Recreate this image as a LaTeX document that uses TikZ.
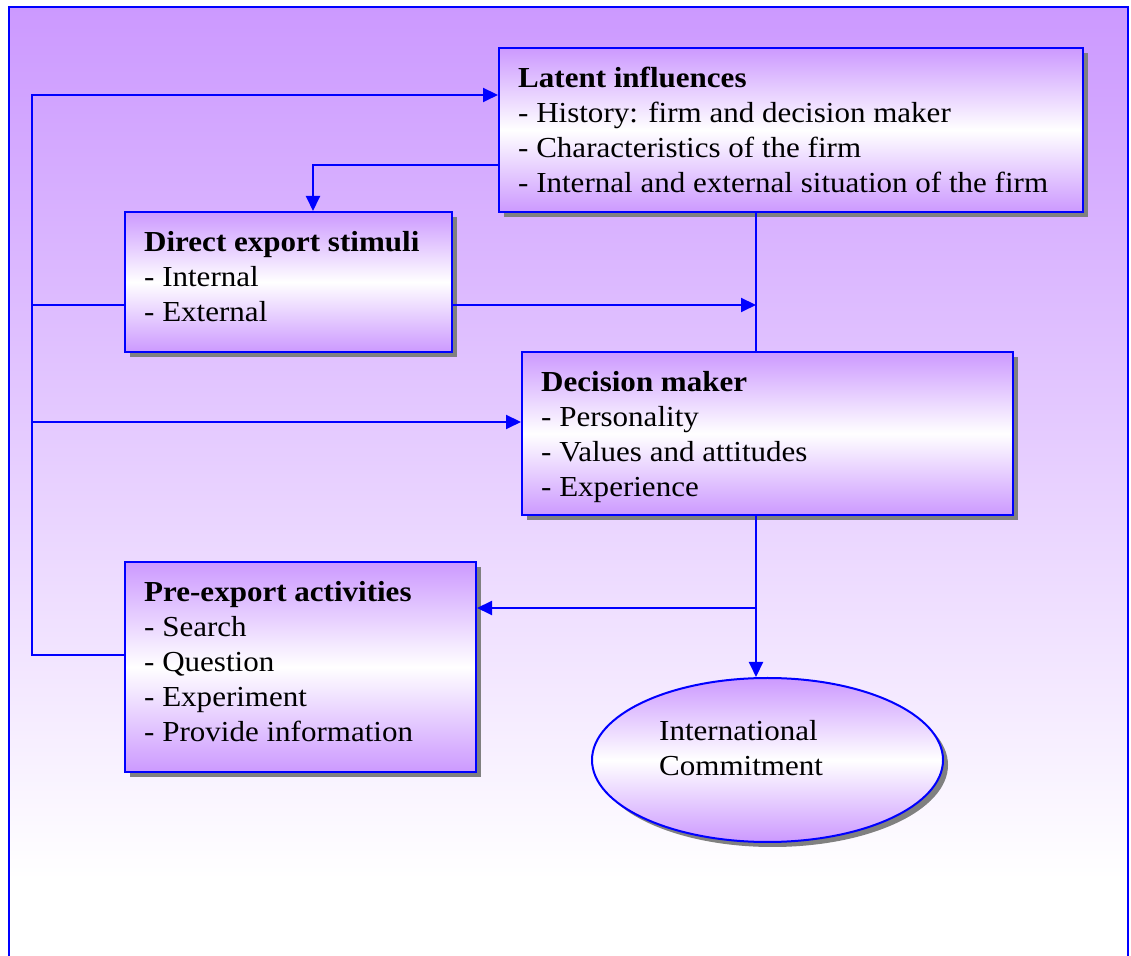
\documentclass[tikz,border=0pt]{standalone}
\usepackage{fontspec}
\setmainfont{Liberation Serif}[FakeStretch=1.07]
\usetikzlibrary{arrows.meta,shapes.geometric,shadows}
\definecolor{lav}{RGB}{204,153,255}
\definecolor{edgeblue}{RGB}{0,0,255}
\definecolor{shadowgray}{RGB}{128,128,128}
\tikzset{
  panel/.style={rectangle, draw=edgeblue, line width=2pt, inner sep=0pt,
    top color=lav, bottom color=lav, middle color=white,
    drop shadow={shadow xshift=5pt, shadow yshift=-5pt, fill=shadowgray, opacity=1}},
  oval/.style={panel, ellipse},
  panel text/.style={anchor=north west, inner sep=0pt, align=left,
    font=\fontsize{29}{35}\selectfont},
  link/.style={draw=edgeblue, line width=2pt},
  feed/.style={link, -{Triangle[length=15pt,width=14pt]}},
}
\begin{document}
\begin{tikzpicture}[x=1pt,y=1pt]
\clip (0,0) rectangle (1131,955);
\fill[white] (0,0) rectangle (1131,955);
% page background and frame
\shade[top color=lav, bottom color=white] (9,75) rectangle (1128,948);
\draw[edgeblue, line width=2pt] (9,-20) -- (9,948) -- (1128,948) -- (1128,-20);

% boxes
\node[panel, minimum width=584pt, minimum height=164pt] (latent) at (791,825) {};
\node[panel, minimum width=327pt, minimum height=140pt] (direct) at (288.5,673) {};
\node[panel, minimum width=491pt, minimum height=163pt] (decision) at (767.5,521.5) {};
\node[panel, minimum width=351pt, minimum height=210pt] (pre) at (300.5,288) {};
\node[oval, minimum width=351pt, minimum height=164pt] (commit) at (767.5,195) {};

% box texts
\node[panel text, xshift=20pt, yshift=-15pt] (latenttext) at (latent.north west)
  {\rule{0pt}{25pt}\textbf{Latent influences}\\- History: firm and decision maker\\- Characteristics of the firm\\- Internal and external situation of the firm};
\node[panel text, xshift=20pt, yshift=-15pt] (directtext) at (direct.north west)
  {\rule{0pt}{25pt}\textbf{Direct export stimuli}\\- Internal\\- External};
\node[panel text, xshift=20pt, yshift=-15pt] (decisiontext) at (decision.north west)
  {\rule{0pt}{25pt}\textbf{Decision maker}\\- Personality\\- Values and attitudes\\- Experience};
\node[panel text, xshift=20pt, yshift=-15pt] (pretext) at (pre.north west)
  {\rule{0pt}{25pt}\textbf{Pre-export activities}\\- Search\\- Question\\- Experiment\\- Provide information};
\node[panel text, xshift=-108.5pt, yshift=45pt] (committext) at (commit.center)
  {\rule{0pt}{25pt}International\\Commitment};

% rail on the left and spine on the right
\coordinate (r1) at (32,860);
\coordinate (r2) at (32,650);
\coordinate (r3) at (32,533);
\coordinate (r4) at (32,300);
\coordinate (s1) at (756,650);
\coordinate (s2) at (756,347);
\coordinate (ldrop) at (313,790);

\draw[feed] (pre.west |- r4) -- (r4) -- (r1) -- (r1 -| latent.west);
\draw[link] (r2) -- (r2 -| direct.west);
\draw[feed] (r3) -- (r3 -| decision.west);
\draw[feed] (ldrop -| latent.west) -| (direct.north -| ldrop);
\draw[feed] (direct.east |- s1) -- (s1);
\draw[link] (latent.south -| s1) -- (decision.north -| s1);
\draw[feed] (decision.south -| s1) -- (s1 |- commit.north);
\draw[feed] (s2) -- (s2 -| pre.east);
\end{tikzpicture}
\end{document}
